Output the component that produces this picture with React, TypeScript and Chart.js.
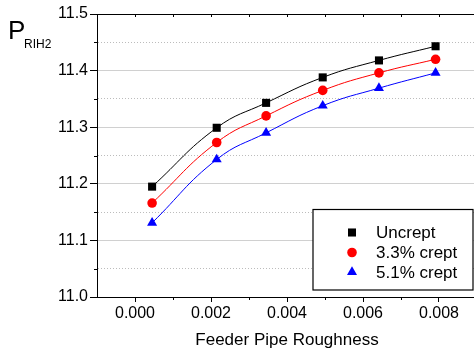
import React, { useEffect, useRef } from "react";
import { Chart, registerables } from "chart.js";

Chart.register(...registerables);

const roughness = [0.00045, 0.00215, 0.00345, 0.00494, 0.00642, 0.00791];
const uncrept = [11.195, 11.299, 11.343, 11.388, 11.418, 11.443];
const crept33 = [11.166, 11.273, 11.32, 11.365, 11.396, 11.42];
const crept51 = [11.131, 11.243, 11.29, 11.338, 11.369, 11.396];
const seriesLabels = ["Uncrept", "3.3% crept", "5.1% crept"];
const xTickLabels = ["0.000", "0.002", "0.004", "0.006", "0.008"];
const yTickLabels = ["11.0", "11.1", "11.2", "11.3", "11.4", "11.5"];

const FONT = "Arial, 'Liberation Sans', sans-serif";

function isMajorY(v: number) {
  return Math.abs(v * 10 - Math.round(v * 10)) < 1e-6;
}

function drawMarker(ctx: CanvasRenderingContext2D, style: string, x: number, y: number, r: number, color: string) {
  ctx.save();
  ctx.fillStyle = color;
  ctx.beginPath();
  if (style === "rect") {
    const s = Math.SQRT1_2 * r;
    ctx.rect(x - s, y - s, 2 * s, 2 * s);
  } else if (style === "circle") {
    ctx.arc(x, y, r, 0, Math.PI * 2);
  } else {
    for (let i = 0; i < 3; i++) {
      const a = (i * 2 * Math.PI) / 3;
      const px = x + Math.sin(a) * r;
      const py = y - Math.cos(a) * r;
      if (i === 0) ctx.moveTo(px, py);
      else ctx.lineTo(px, py);
    }
    ctx.closePath();
  }
  ctx.fill();
  ctx.restore();
}

const decorPlugin = {
  id: "decor",
  afterDraw(chart: any) {
    const { ctx, chartArea, scales } = chart;
    const xs = scales.x;
    const ys = scales.y;
    ctx.save();
    ctx.strokeStyle = "#000";
    ctx.lineWidth = 1;
    for (let k = 0; k < 5; k++) {
      const v = 11.05 + k * 0.1;
      const py = Math.round(ys.getPixelForValue(v)) + 0.5;
      ctx.beginPath();
      ctx.moveTo(chartArea.left - 3, py);
      ctx.lineTo(chartArea.left, py);
      ctx.stroke();
    }
    for (let k = 0; k <= 8; k++) {
      const px = Math.round(xs.getPixelForValue(k * 0.001)) + 0.5;
      if (k % 2 === 1) {
        ctx.beginPath();
        ctx.moveTo(px, chartArea.bottom);
        ctx.lineTo(px, chartArea.bottom + 3);
        ctx.stroke();
      }
      ctx.beginPath();
      ctx.moveTo(px, chartArea.top);
      ctx.lineTo(px, chartArea.top + 3);
      ctx.stroke();
    }
    ctx.fillStyle = "#000";
    ctx.textBaseline = "alphabetic";
    ctx.textAlign = "left";
    ctx.font = `26px ${FONT}`;
    ctx.fillText("P", 8, 39);
    ctx.font = `12px ${FONT}`;
    ctx.fillText("RIH2", 24, 48);
    const bx = 313, by = 209.5, bw = 160, bh = 80.5;
    ctx.fillStyle = "#fff";
    ctx.fillRect(bx, by, bw, bh);
    ctx.strokeStyle = "#000";
    ctx.lineWidth = 1.2;
    ctx.strokeRect(bx, by, bw, bh);
    const rowsY = [232.5, 252.5, 272];
    chart.data.datasets.forEach((ds: any, i: number) => {
      drawMarker(ctx, ds.pointStyle, 352, rowsY[i], ds.pointRadius, ds.borderColor);
      ctx.fillStyle = "#000";
      ctx.font = `17px ${FONT}`;
      ctx.textBaseline = "middle";
      ctx.fillText(ds.label, 376, rowsY[i] + 1);
    });
    ctx.restore();
  },
};

export default function App() {
  const ref = useRef<HTMLCanvasElement>(null);
  useEffect(() => {
    if (!ref.current) return;
    const mk = (label: string, ys: number[], color: string, style: string, r: number) => ({
      label,
      data: roughness.map((x, i) => ({ x, y: ys[i] })),
      borderColor: color,
      backgroundColor: color,
      pointBackgroundColor: color,
      pointBorderColor: color,
      pointStyle: style,
      pointRadius: r,
      pointBorderWidth: 0,
      borderWidth: 1,
      showLine: true,
      tension: 0.45,
    });
    const chart = new Chart(ref.current, {
      type: "scatter",
      data: {
        datasets: [
          mk(seriesLabels[0], uncrept, "#000000", "rect", 5.7),
          mk(seriesLabels[1], crept33, "#ff0000", "circle", 4.8),
          mk(seriesLabels[2], crept51, "#0000ff", "triangle", 5.8),
        ] as any,
      },
      options: {
        animation: false,
        responsive: false,
        devicePixelRatio: 1,
        layout: { padding: { left: 0, top: 14, right: 13, bottom: 0 } },
        plugins: { legend: { display: false }, tooltip: { enabled: false } },
        scales: {
          x: {
            type: "linear",
            min: -0.001,
            max: 0.009,
            afterFit: (s: any) => {
              s.height = 56;
            },
            ticks: {
              stepSize: 0.001,
              autoSkip: false,
              maxRotation: 0,
              padding: 2,
              color: "#000",
              font: { family: FONT, size: 16 },
              callback: (v: any) => {
                const k = Math.round(Number(v) / 0.001);
                return k >= 0 && k <= 8 && k % 2 === 0 ? xTickLabels[k / 2] : "";
              },
            },
            grid: {
              drawOnChartArea: false,
              tickLength: 5,
              tickColor: (c: any) => {
                const k = Math.round(Number(c.tick?.value) / 0.001);
                return k >= 0 && k <= 8 && k % 2 === 0 ? "#000" : "rgba(0,0,0,0)";
              },
            },
            border: { color: "#000", width: 1 },
            title: {
              display: true,
              text: "Feeder Pipe Roughness",
              color: "#000",
              font: { family: FONT, size: 17 },
              padding: { top: 0, bottom: 2 },
            },
          },
          y: {
            type: "linear",
            min: 11.0,
            max: 11.5,
            afterFit: (s: any) => {
              s.width = 97;
            },
            ticks: {
              stepSize: 0.05,
              autoSkip: false,
              padding: 2,
              color: "#000",
              font: { family: FONT, size: 16 },
              callback: (v: any) => {
                const n = Number(v);
                if (!isMajorY(n)) return "";
                return yTickLabels[Math.round((n - 11) * 10)];
              },
            },
            grid: {
              lineWidth: 1,
              tickLength: 7,
              color: (c: any) => {
                const v = Number(c.tick?.value);
                if (Math.abs(v - 11.5) < 1e-6 || Math.abs(v - 11.0) < 1e-6) return "#000";
                return isMajorY(v) ? "#d0d0d0" : "#bcbcbc";
              },
              tickColor: (c: any) => (isMajorY(Number(c.tick?.value)) ? "#000" : "rgba(0,0,0,0)"),
            },
            border: {
              color: "#000",
              width: 1,
              dash: (c: any) => (c.tick && !isMajorY(Number(c.tick.value)) ? [1, 2] : []),
            } as any,
          },
        },
      },
      plugins: [decorPlugin],
    });
    return () => chart.destroy();
  }, []);
  return (
    <div style={{ position: "fixed", left: 0, top: 0, width: 474, height: 353, overflow: "hidden", background: "#fff" }}>
      <canvas ref={ref} width={490} height={353} style={{ width: 490, height: 353, display: "block" }} />
    </div>
  );
}
